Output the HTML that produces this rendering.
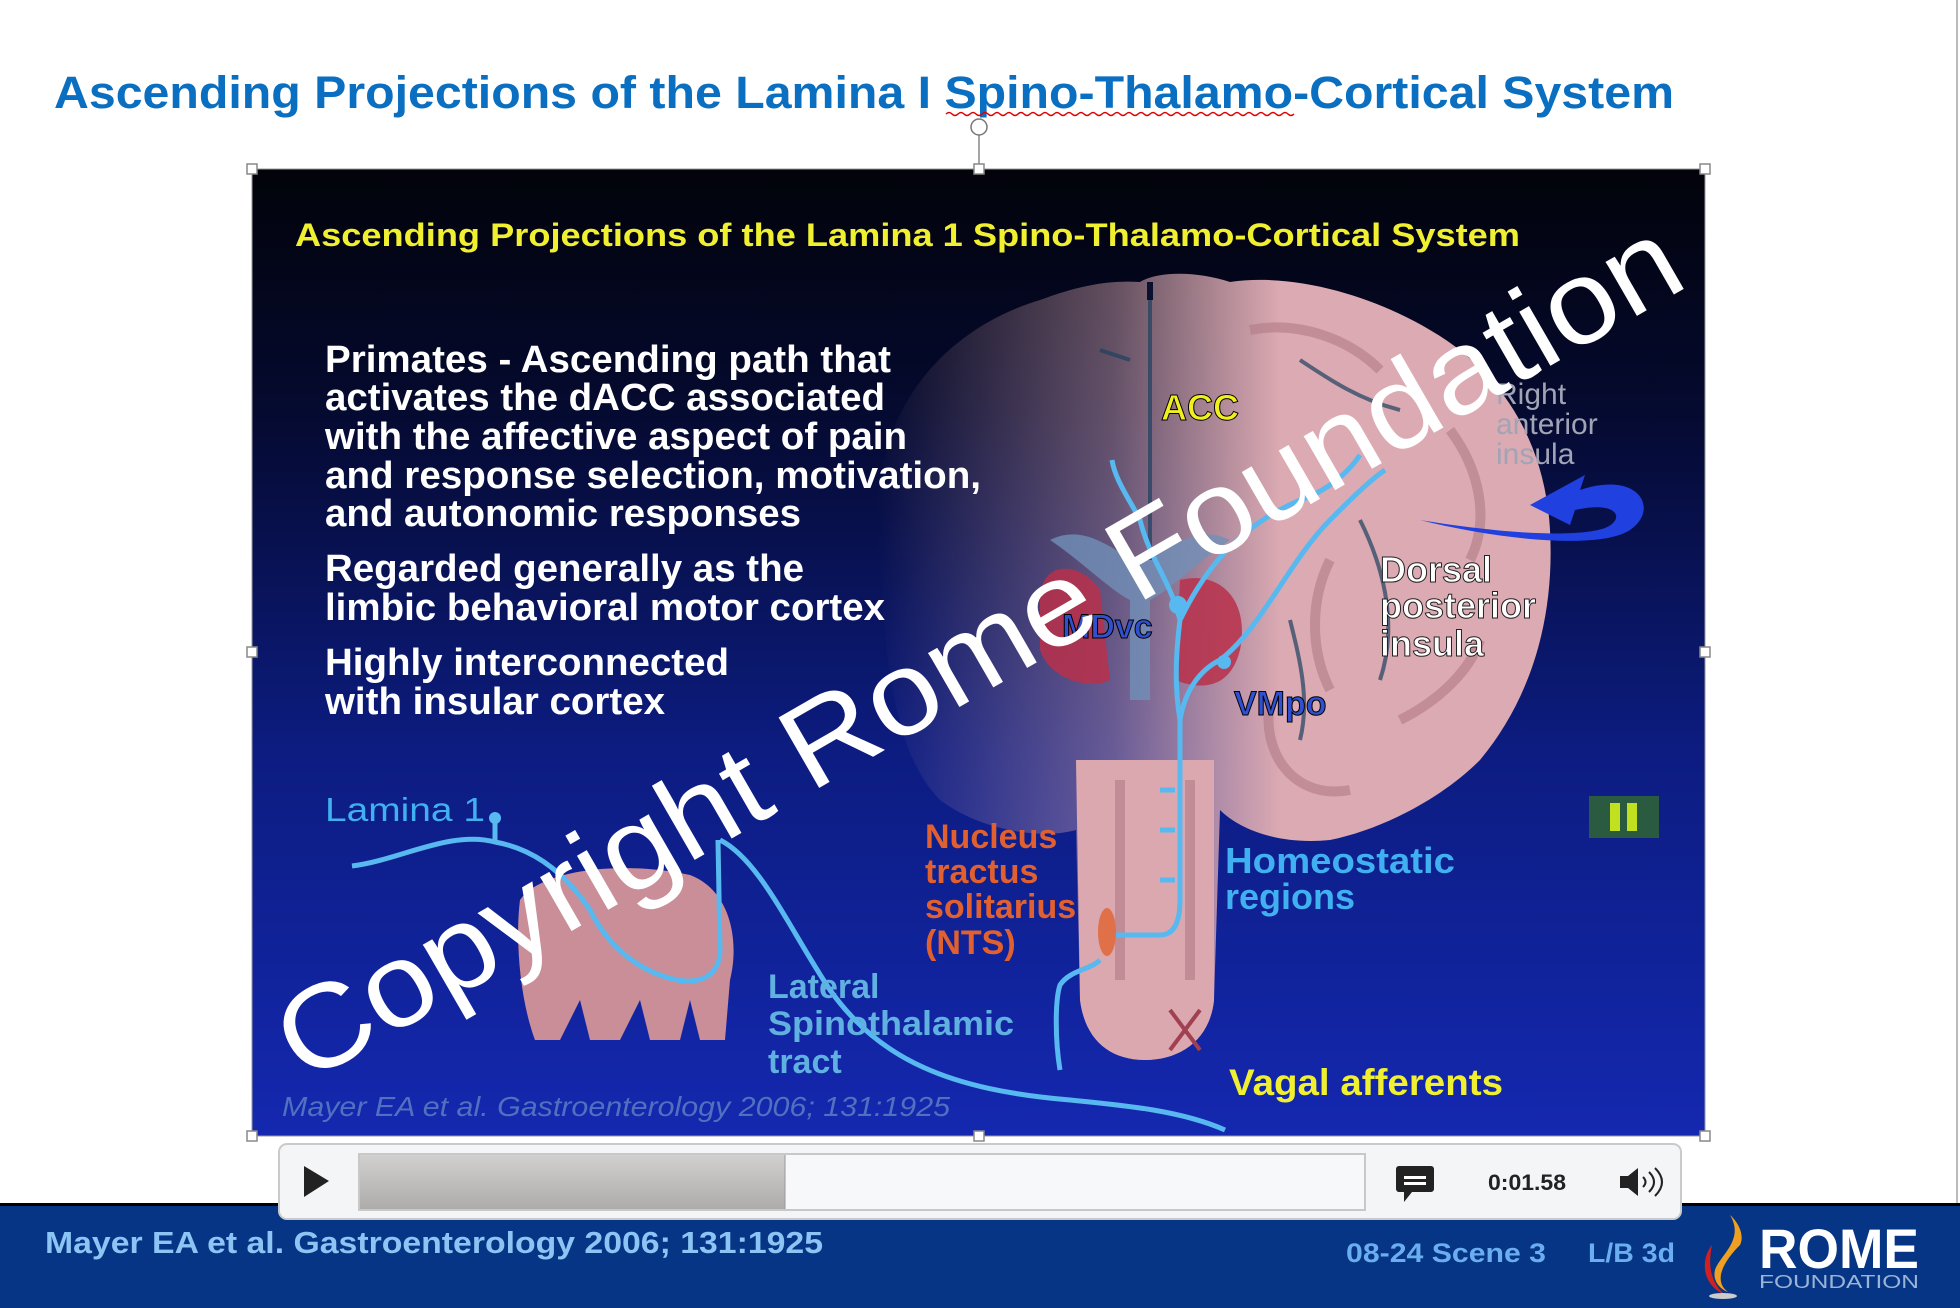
<!DOCTYPE html>
<html><head><meta charset="utf-8"><style>
html,body{margin:0;padding:0;background:#fff;}
svg{display:block}
</style></head><body>
<svg width="1960" height="1308" viewBox="0 0 1960 1308" xmlns="http://www.w3.org/2000/svg" font-family="Liberation Sans, sans-serif">
<defs>
<linearGradient id="bg" x1="0" y1="0" x2="0" y2="1">
<stop offset="0" stop-color="#02030a"/><stop offset="0.25" stop-color="#050a30"/>
<stop offset="0.6" stop-color="#0c1c80"/><stop offset="1" stop-color="#1428b0"/>
</linearGradient>
<linearGradient id="fade" x1="0" y1="0" x2="1" y2="0">
<stop offset="0" stop-color="#d8a8b0" stop-opacity="0"/><stop offset="0.35" stop-color="#d8a8b0" stop-opacity="0.45"/><stop offset="0.6" stop-color="#dcaab2" stop-opacity="1"/>
</linearGradient>
<linearGradient id="prog" x1="0" y1="0" x2="0" y2="1"><stop offset="0" stop-color="#d2d0ce"/><stop offset="1" stop-color="#aeacaa"/></linearGradient>
</defs>
<rect width="1960" height="1308" fill="#fff"/>
<line x1="1957" y1="0" x2="1957" y2="1204" stroke="#bbb" stroke-width="2"/>
<text x="54" y="108" font-size="45" font-weight="bold" fill="#0a6fc0" textLength="1620" lengthAdjust="spacingAndGlyphs">Ascending Projections of the Lamina I Spino-Thalamo-Cortical System</text>
<path d="M946 114 q3 -3 6 0 t6 0 t6 0 t6 0 t6 0 t6 0 t6 0 t6 0 t6 0 t6 0 t6 0 t6 0 t6 0 t6 0 t6 0 t6 0 t6 0 t6 0 t6 0 t6 0 t6 0 t6 0 t6 0 t6 0 t6 0 t6 0 t6 0 t6 0 t6 0 t6 0 t6 0 t6 0 t6 0 t6 0 t6 0 t6 0 t6 0 t6 0 t6 0 t6 0 t6 0 t6 0 t6 0 t6 0 t6 0 t6 0 t6 0 t6 0 t6 0 t6 0 t6 0 t6 0 t6 0 t6 0 t6 0 t6 0 t6 0 t6 0" fill="none" stroke="#d00" stroke-width="1.5"/>

<!-- slide image -->
<rect x="252" y="169" width="1453" height="967" fill="url(#bg)"/>
<!-- brain -->
<g>
<path d="M880 560 C860 420 940 330 1040 300 C1080 285 1110 280 1140 282 C1160 270 1200 272 1230 282 C1300 272 1380 300 1430 330 C1500 370 1545 440 1550 530 C1555 620 1530 700 1480 760 C1440 800 1380 830 1330 840 C1280 845 1240 830 1220 810 L1214 1000 C1210 1040 1180 1060 1145 1060 C1110 1060 1085 1040 1080 1000 L1076 830 C1040 840 980 830 940 800 C900 760 885 680 880 560 Z" fill="url(#fade)"/>
<path d="M1150 282 L1150 300" stroke="#0a1030" stroke-width="6"/>
<path d="M1076 760 L1214 760 L1214 1000 C1210 1040 1180 1060 1145 1060 C1110 1060 1085 1040 1080 1000 Z" fill="#dca8b0"/>
<g fill="none" stroke="#b07a86" stroke-width="10" opacity="0.6">
<path d="M1250 330 C1300 320 1350 340 1380 370"/>
<path d="M1450 430 C1480 470 1490 520 1470 560"/>
<path d="M1400 720 C1440 700 1470 670 1480 640"/>
<path d="M1270 700 C1260 760 1300 800 1350 790"/>
<path d="M1330 560 C1310 600 1310 650 1330 690"/>
<path d="M1120 780 L1120 980 M1190 780 L1190 980"/>
</g>
<path d="M1040 600 C1040 560 1080 560 1100 590 L1110 680 C1090 690 1050 680 1040 650 Z" fill="#b8304a" opacity="0.85"/>
<path d="M1180 580 C1220 570 1250 600 1240 650 C1230 690 1200 690 1175 680 Z" fill="#b8304a" opacity="0.85"/>
<path d="M1050 540 C1090 520 1120 560 1140 560 C1160 560 1190 520 1230 540 C1200 560 1170 590 1150 600 L1150 700 L1130 700 L1130 600 C1110 590 1080 560 1050 540 Z" fill="#7090b8" opacity="0.8"/>
<path d="M1360 520 C1380 560 1400 620 1380 680 M1290 620 C1300 660 1310 700 1300 740 M1150 300 L1150 560 M1100 350 L1130 360 M1300 360 C1330 380 1360 400 1400 410" stroke="#1c4060" stroke-width="4" fill="none" opacity="0.7"/>
<path d="M1170 1010 L1200 1050 M1200 1010 L1170 1050" stroke="#a04050" stroke-width="4"/>
</g>
<!-- spinal cord section -->
<path d="M520 900 C540 870 620 860 690 875 C730 890 740 940 730 980 L725 1040 L700 1040 L690 1000 L680 1040 L650 1040 L640 1000 L620 1040 L590 1040 L580 1000 L560 1040 L535 1040 C520 1000 515 940 520 900 Z" fill="#c98e98"/>
<!-- nerve paths -->
<g fill="none" stroke="#58b8f0" stroke-width="5">
<path d="M352 866 C400 860 450 830 495 842 C540 850 570 880 590 910 C600 930 620 960 660 975 C700 990 720 975 720 950 L718 840"/>
<path d="M495 842 L495 820"/>
<path d="M720 840 C760 860 790 930 830 990 C880 1060 950 1090 1070 1100 C1120 1105 1180 1110 1225 1130"/>
<path d="M1060 1070 C1055 1040 1055 1000 1060 985 C1070 970 1090 970 1100 960"/>
<path d="M1110 935 L1160 935 C1175 935 1180 920 1180 900 L1180 720 C1185 690 1200 670 1220 660 C1260 630 1290 560 1330 520 C1350 500 1370 480 1385 470"/>
<path d="M1180 720 C1175 690 1175 660 1180 620 C1200 580 1230 530 1300 500 C1330 490 1350 470 1360 455"/>
<path d="M1180 620 C1170 580 1150 560 1140 520 C1130 500 1115 480 1112 460"/>
<path d="M1175 790 L1160 790 M1175 830 L1160 830 M1175 880 L1160 880"/>
</g>
<circle cx="1178" cy="605" r="9" fill="#58b8f0"/><circle cx="1224" cy="662" r="7" fill="#58b8f0"/>
<circle cx="495" cy="818" r="6" fill="#58b8f0"/>
<ellipse cx="1107" cy="932" rx="9" ry="24" fill="#e07048"/>
<!-- blue arrow -->
<path d="M1420 520 C1500 540 1600 550 1630 530 C1660 510 1640 470 1580 490 L1585 475 L1530 505 L1570 525 L1575 510 C1620 500 1625 520 1605 528 C1570 540 1480 530 1420 520 Z" fill="#2040e0"/>
<!-- pause -->
<rect x="1589" y="796" width="70" height="42" fill="#2a5a40"/>
<rect x="1610" y="803" width="10" height="28" fill="#c0e020"/><rect x="1627" y="803" width="10" height="28" fill="#c0e020"/>

<!-- slide texts -->
<text x="295" y="246" font-size="32" font-weight="bold" fill="#f0f030" textLength="1225" lengthAdjust="spacingAndGlyphs">Ascending Projections of the Lamina 1 Spino-Thalamo-Cortical System</text>
<g font-size="38" font-weight="bold" fill="#fff">
<text x="325" y="372" textLength="566" lengthAdjust="spacingAndGlyphs">Primates - Ascending path that</text>
<text x="325" y="410" textLength="560" lengthAdjust="spacingAndGlyphs">activates the dACC associated</text>
<text x="325" y="449" textLength="582" lengthAdjust="spacingAndGlyphs">with the affective aspect of pain</text>
<text x="325" y="488" textLength="656" lengthAdjust="spacingAndGlyphs">and response selection, motivation,</text>
<text x="325" y="526" textLength="476" lengthAdjust="spacingAndGlyphs">and autonomic responses</text>
<text x="325" y="581" textLength="479" lengthAdjust="spacingAndGlyphs">Regarded generally as the</text>
<text x="325" y="620" textLength="560" lengthAdjust="spacingAndGlyphs">limbic behavioral motor cortex</text>
<text x="325" y="675" textLength="404" lengthAdjust="spacingAndGlyphs">Highly interconnected</text>
<text x="325" y="714" textLength="340" lengthAdjust="spacingAndGlyphs">with insular cortex</text>
</g>
<text x="325" y="821" font-size="33" fill="#40b0f0" textLength="160" lengthAdjust="spacingAndGlyphs">Lamina 1</text>
<g font-size="34" fill="#e06030" font-weight="bold">
<text x="925" y="848">Nucleus</text><text x="925" y="883">tractus</text><text x="925" y="918">solitarius</text><text x="925" y="954">(NTS)</text>
</g>
<g font-size="34" fill="#60b0e0" font-weight="bold">
<text x="768" y="998">Lateral</text><text x="768" y="1035" textLength="246" lengthAdjust="spacingAndGlyphs">Spinothalamic</text><text x="768" y="1073">tract</text>
</g>
<text x="282" y="1116" font-size="28" font-style="italic" fill="#5070c0" textLength="668" lengthAdjust="spacingAndGlyphs">Mayer EA et al. Gastroenterology 2006; 131:1925</text>
<text x="1229" y="1095" font-size="37" font-weight="bold" fill="#f0f030" textLength="274" lengthAdjust="spacingAndGlyphs">Vagal afferents</text>
<g font-size="36" font-weight="bold" fill="#40b0f0"><text x="1225" y="873" textLength="230" lengthAdjust="spacingAndGlyphs">Homeostatic</text><text x="1225" y="909">regions</text></g>
<text x="1234" y="715" font-size="34" font-weight="bold" fill="#3050d0" stroke="#000" stroke-width="1">VMpo</text>
<text x="1062" y="638" font-size="34" font-weight="bold" fill="#3050d0" stroke="#000" stroke-width="1">MDvc</text>
<text x="1161" y="420" font-size="36" font-weight="bold" fill="#f0f020" stroke="#000" stroke-width="1">ACC</text>
<g font-size="36" font-weight="bold" fill="#fff" stroke="#222" stroke-width="1"><text x="1380" y="582">Dorsal</text><text x="1380" y="618">posterior</text><text x="1380" y="656">insula</text></g>
<g font-size="30" fill="#a0a4b4"><text x="1496" y="404">Right</text><text x="1496" y="434">anterior</text><text x="1496" y="464">insula</text></g>

<!-- watermark -->
<text x="978" y="690" font-size="118" fill="#fff" text-anchor="middle" transform="rotate(-30 978 650)" textLength="1600" lengthAdjust="spacingAndGlyphs">Copyright Rome Foundation</text>

<!-- selection handles -->
<rect x="252" y="169" width="1453" height="967" fill="none" stroke="#999" stroke-width="1"/>
<line x1="979" y1="134" x2="979" y2="169" stroke="#888" stroke-width="1.5"/>
<circle cx="979" cy="127" r="8" fill="#fff" stroke="#777" stroke-width="1.5"/>
<g fill="#fff" stroke="#888" stroke-width="1.5">
<rect x="247" y="164" width="10" height="10"/><rect x="974" y="164" width="10" height="10"/><rect x="1700" y="164" width="10" height="10"/>
<rect x="247" y="647" width="10" height="10"/><rect x="1700" y="647" width="10" height="10"/>
<rect x="247" y="1131" width="10" height="10"/><rect x="974" y="1131" width="10" height="10"/><rect x="1700" y="1131" width="10" height="10"/>
</g>

<!-- footer bar -->
<rect x="0" y="1204" width="1960" height="104" fill="#063585"/>
<rect x="0" y="1203" width="1960" height="3" fill="#000"/>
<text x="45" y="1253" font-size="31" font-weight="bold" fill="#8cc4f4" textLength="778" lengthAdjust="spacingAndGlyphs">Mayer EA et al. Gastroenterology 2006; 131:1925</text>
<text x="1346" y="1262" font-size="27" font-weight="bold" fill="#6aaef0" textLength="200" lengthAdjust="spacingAndGlyphs">08-24  Scene 3</text>
<text x="1588" y="1262" font-size="27" font-weight="bold" fill="#6aaef0" textLength="87" lengthAdjust="spacingAndGlyphs">L/B 3d</text>
<path d="M1730 1215 C1745 1240 1720 1255 1715 1270 C1712 1282 1722 1290 1728 1292 C1712 1280 1725 1260 1740 1245 C1745 1235 1738 1222 1730 1215 Z" fill="#f0a020"/>
<path d="M1712 1245 C1700 1260 1702 1285 1725 1295 C1710 1282 1708 1265 1712 1245 Z" fill="#d02020"/>
<ellipse cx="1723" cy="1296" rx="14" ry="3" fill="#ccc"/>
<text x="1759" y="1268" font-size="56" font-weight="bold" fill="#fff" textLength="160" lengthAdjust="spacingAndGlyphs">ROME</text>
<text x="1759" y="1288" font-size="18" fill="#9ab4d8" textLength="160" lengthAdjust="spacingAndGlyphs">FOUNDATION</text>

<!-- player bar -->
<rect x="279" y="1144" width="1402" height="75" rx="8" fill="#f4f5f6" stroke="#c8cacc" stroke-width="2"/>
<polygon points="304,1166 304,1197 329,1181" fill="#222"/>
<rect x="359" y="1154" width="1006" height="56" fill="#f7f8f9" stroke="#c8c8c8" stroke-width="2"/>
<rect x="360" y="1155" width="425" height="54" fill="url(#prog)"/>
<line x1="785" y1="1155" x2="785" y2="1209" stroke="#999"/>
<rect x="1396" y="1166" width="38" height="26" rx="3" fill="#222"/>
<polygon points="1404,1192 1412,1192 1404,1202" fill="#222"/>
<rect x="1404" y="1176" width="22" height="3" fill="#fff"/><rect x="1404" y="1182" width="22" height="3" fill="#fff"/>
<text x="1488" y="1190" font-size="22" font-weight="bold" fill="#222" textLength="78" lengthAdjust="spacingAndGlyphs">0:01.58</text>
<polygon points="1620,1176 1628,1176 1638,1168 1638,1196 1628,1188 1620,1188" fill="#222"/>
<path d="M1643 1177 q5 5 0 10 M1649 1172 q10 10 0 20 M1655 1168 q14 14 0 28" fill="none" stroke="#222" stroke-width="2"/>
</svg>
</body></html>
